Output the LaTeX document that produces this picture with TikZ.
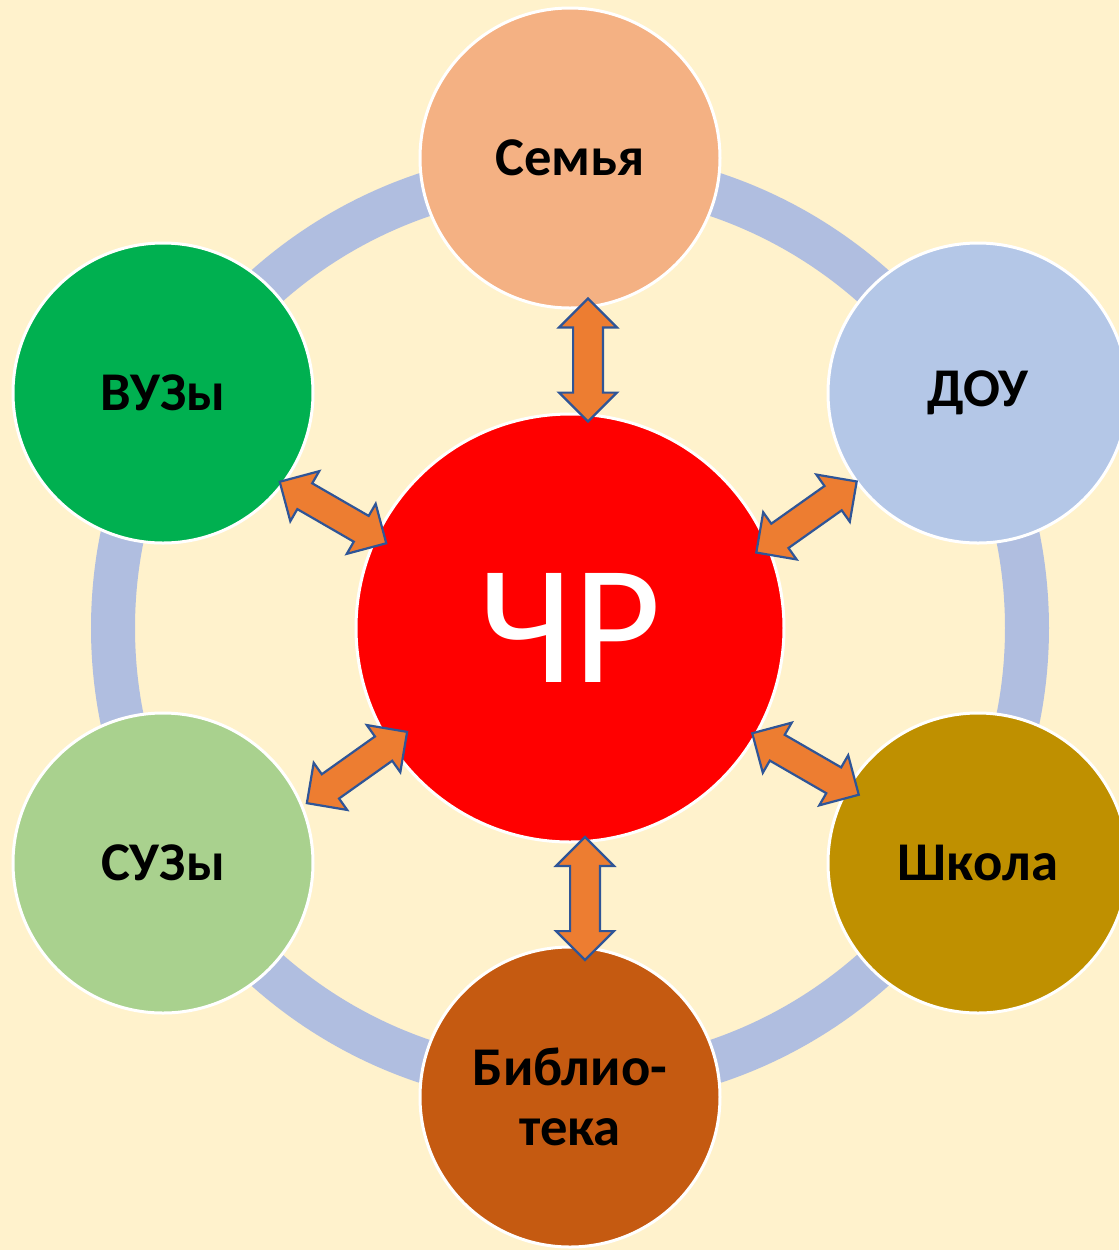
\documentclass[tikz,border=0pt]{standalone}
\usepackage{fontspec}
\setmainfont{Carlito}
\usetikzlibrary{shapes.arrows}
\definecolor{bgcream}{RGB}{255,242,204}
\definecolor{ringblue}{RGB}{176,190,224}
\definecolor{arrorange}{RGB}{237,125,49}
\definecolor{arrline}{RGB}{47,85,151}
\definecolor{semcol}{RGB}{244,177,131}
\definecolor{doucol}{RGB}{180,199,231}
\definecolor{shkcol}{RGB}{191,144,0}
\definecolor{bibcol}{RGB}{197,90,17}
\definecolor{suzcol}{RGB}{169,209,142}
\definecolor{vuzcol}{RGB}{0,176,80}
\tikzset{
  part/.style={circle,draw=white,line width=1.5pt,minimum size=150pt,inner sep=0pt,
    font=\fontsize{27.3}{30}\selectfont\bfseries,align=center},
  link/.style={double arrow,draw=arrline,fill=arrorange,line width=1.1pt,
    minimum height=61.5pt,inner sep=0pt,inner ysep=6.9pt,double arrow head extend=7pt}
}

\begin{document}
\begin{tikzpicture}[x=0.5pt,y=-0.5pt]
\useasboundingbox (0,0) rectangle (1119,1250);
\fill[bgcream] (0,0) rectangle (1119,1250);
\clip (0,0) rectangle (1119,1250);
\coordinate (mid) at (570,628);
\draw[ringblue,line width=22pt] (mid) circle (457);
\node[part,fill=red,minimum size=214pt,text=white,font=\fontsize{85}{90}\selectfont] (chr) at (mid) {ЧР};
\node[part,fill=semcol] (sem) at (570,158) {Семья};
\node[part,fill=doucol] (dou) at (978,393) {ДОУ};
\node[part,fill=shkcol] (shk) at (978,863) {Школа};
\node[part,fill=bibcol] (bib) at (570,1097) {Библио-\\тека};
\node[part,fill=suzcol] (suz) at (163,863) {СУЗы};
\node[part,fill=vuzcol] (vuz) at (163,393) {ВУЗы};
\node[link,rotate=90] (asem) at (588,360) {};
\node[link,rotate=35.3] (adou) at (806.5,517) {};
\node[link,rotate=-30] (ashk) at (805.5,764) {};
\node[link,rotate=90] (abib) at (585,898.5) {};
\node[link,rotate=35.4] (asuz) at (357,767.5) {};
\node[link,rotate=-30] (avuz) at (333,512.5) {};
\end{tikzpicture}
\end{document}
